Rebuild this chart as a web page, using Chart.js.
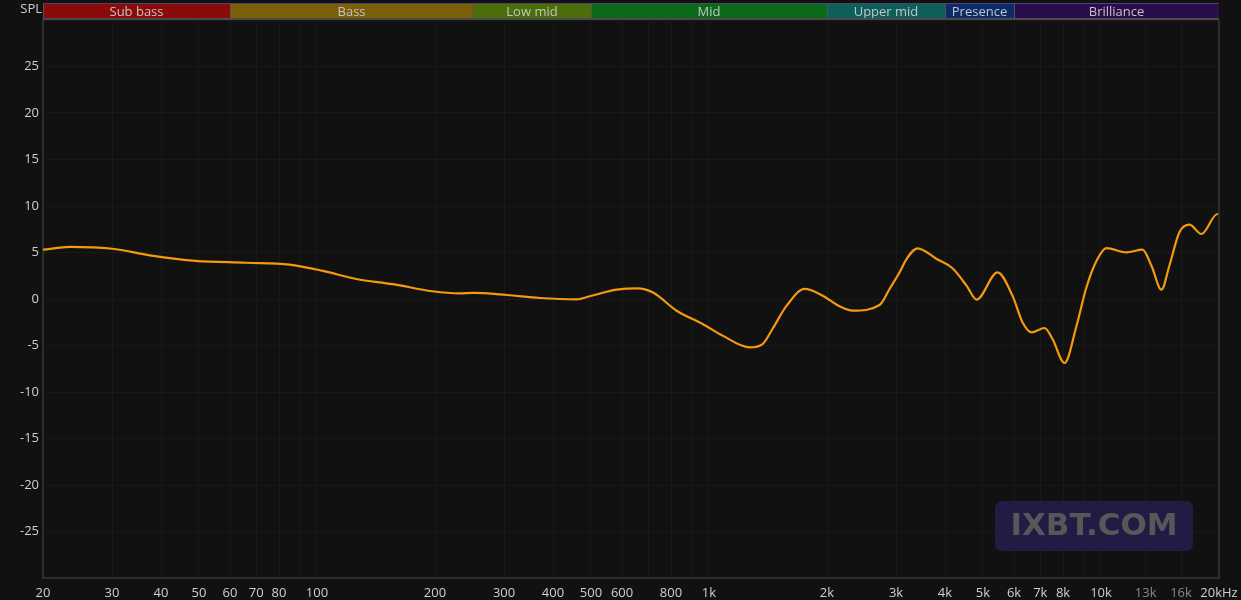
<!DOCTYPE html>
<html lang="en">
<head>
  <meta charset="UTF-8" />
  <title>SPL frequency response</title>
  <script src="https://cdn.jsdelivr.net/npm/chart.js"></script>
  <style>
    html, body { margin: 0; padding: 0; background: #111111; }
    #wrap { position: relative; width: 1241px; height: 600px; }
  </style>
</head>
<body>
  <div id="wrap"><canvas id="fr"></canvas></div>

  <script>
    // frequency response
    const freqs = [20, 23.4, 30, 37.5, 49, 66, 85, 103, 126, 156, 197, 231, 250, 305, 370, 460, 496,
      581, 658, 718, 827, 963, 1083, 1270, 1370, 1453, 1578, 1754, 1949, 2154, 2325, 2723, 2888,
      3064, 3191, 3405, 3808, 4180, 4540, 4814, 5445, 5945, 6306, 6646, 7178, 7521, 8071, 8662,
      9181, 9741, 10326, 11610, 12756, 13450, 14263, 14943, 15850, 16814, 18041, 19816, 20000];
    const spl = [5.3, 5.6, 5.4, 4.7, 4.1, 3.9, 3.7, 3.05, 2.15, 1.6, 0.83, 0.6, 0.65, 0.43, 0.11, -0.03, 0.29,
      1.0, 1.15, 0.72, -1.26, -2.69, -3.94, -5.2, -4.84, -3.2, -0.72, 1.08, 0.36, -0.79, -1.26, -0.65, 1.08,
      2.87, 4.3, 5.45, 4.3, 3.3, 1.43, -0.07, 2.87, 0.36, -2.5, -3.58, -3.12, -4.3, -6.88, -2.87,
      1.26, 4.12, 5.48, 5.02, 5.3, 3.58, 1.0, 3.58, 7.17, 7.99, 6.99, 9.14, 9.1];

    const xTicks = [20, 30, 40, 50, 60, 70, 80, 90, 100, 200, 300, 400, 500, 600, 700, 800, 900, 1000,
      2000, 3000, 4000, 5000, 6000, 7000, 8000, 9000, 10000, 13000, 16000, 20000];
    const xLabels = ['20', '30', '40', '50', '60', '70', '80', '', '100', '200', '300', '400', '500', '600', '', '800', '', '1k',
      '2k', '3k', '4k', '5k', '6k', '7k', '8k', '', '10k', '13k', '16k', '20kHz'];
    const dimTicks = [13000, 16000];

    const bandNames = ['Sub bass', 'Bass', 'Low mid', 'Mid', 'Upper mid', 'Presence', 'Brilliance'];
    const bandEdges = [20, 60, 250, 500, 2000, 4000, 6000, 20000];
    const bandColors = ['#8a0b0b', '#7c6009', '#4b6d0a', '#0b691a', '#0d5f59', '#0d2b68', '#2a0d4b'];

    const font = '"Open Sans", "Noto Sans", sans-serif';

    const frame = {
      id: 'frame',
      afterDraw(chart) {
        const { ctx, chartArea: a, scales: { x } } = chart;
        ctx.save();
        // frequency band header
        for (let i = 0; i < bandNames.length; i++) {
          const x0 = x.getPixelForValue(bandEdges[i]);
          const x1 = x.getPixelForValue(bandEdges[i + 1]);
          ctx.fillStyle = bandColors[i];
          ctx.fillRect(x0, 3, x1 - x0, 15);
          ctx.strokeStyle = '#555';
          ctx.lineWidth = 1;
          ctx.beginPath();
          ctx.moveTo(Math.round(x0) + 0.5, 3);
          ctx.lineTo(Math.round(x0) + 0.5, 18);
          ctx.stroke();
          ctx.fillStyle = '#c4c4c4';
          ctx.font = '13px ' + font;
          ctx.textAlign = 'center';
          ctx.textBaseline = 'middle';
          ctx.fillText(bandNames[i], (x0 + x1) / 2, 12);
        }
        ctx.strokeStyle = '#4d4470';
        ctx.beginPath();
        ctx.moveTo(a.left, 3.5);
        ctx.lineTo(a.right, 3.5);
        ctx.stroke();
        ctx.strokeStyle = '#4a4a4a';
        ctx.lineWidth = 2;
        ctx.beginPath();
        ctx.moveTo(a.left, 19);
        ctx.lineTo(a.right, 19);
        ctx.stroke();
        // right border
        ctx.strokeStyle = '#2e2e2e';
        ctx.beginPath();
        ctx.moveTo(a.right, a.top);
        ctx.lineTo(a.right, a.bottom);
        ctx.stroke();

        ctx.fillStyle = '#cfcfcf';
        ctx.font = '13px ' + font;
        ctx.textAlign = 'right';
        ctx.textBaseline = 'middle';
        ctx.fillText('SPL', a.left - 1, 9);

        // watermark
        ctx.fillStyle = '#201c44';
        ctx.beginPath();
        ctx.roundRect(995, 501, 198, 50, 7);
        ctx.fill();
        ctx.fillStyle = '#575757';
        ctx.font = 'bold 31px "DejaVu Sans", sans-serif';
        ctx.textAlign = 'center';
        ctx.fillText('IXBT.COM', 1094, 527);
        ctx.restore();
      }
    };

    new Chart(document.getElementById('fr'), {
      type: 'line',
      data: {
        datasets: [{
          label: 'SPL',
          data: freqs.map((f, i) => ({ x: f, y: spl[i] })),
          borderColor: '#f39a0e',
          borderWidth: 2.2,
          pointRadius: 0,
          cubicInterpolationMode: 'monotone',
          fill: false
        }]
      },
      options: {
        responsive: true,
        maintainAspectRatio: false,
        animation: false,
        layout: { padding: { top: 20, right: 0, left: 0, bottom: 0 } },
        plugins: { legend: { display: false }, tooltip: { enabled: false } },
        scales: {
          x: {
            type: 'logarithmic',
            min: 20,
            max: 20000,
            afterBuildTicks(scale) { scale.ticks = xTicks.map(v => ({ value: v })); },
            afterFit(scale) { scale.height = 22; scale.paddingRight = 22; },
            grid: { color: '#191919', drawTicks: false },
            border: { color: '#2e2e2e', width: 2 },
            ticks: {
              autoSkip: false,
              maxRotation: 0,
              padding: 7,
              font: { family: font, size: 13 },
              color: c => dimTicks.includes(c.tick.value) ? '#8a8a8a' : '#d0d0d0',
              callback: (v, i) => xLabels[i]
            }
          },
          y: {
            min: -30,
            max: 30,
            afterFit(scale) { scale.width = 43; },
            grid: { color: '#191919', drawTicks: false },
            border: { color: '#2e2e2e', width: 2 },
            ticks: {
              stepSize: 5,
              padding: 4,
              font: { family: font, size: 13 },
              color: '#d0d0d0',
              callback: v => (v === 30 || v === -30) ? '' : v
            }
          }
        }
      },
      plugins: [frame]
    });
  </script>
</body>
</html>
